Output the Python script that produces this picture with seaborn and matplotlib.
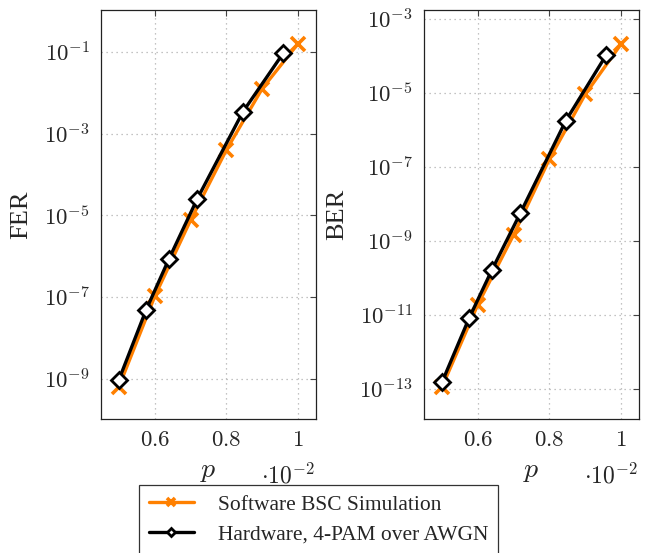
import numpy as np
import pandas as pd
import matplotlib
matplotlib.use('Agg')
import matplotlib.pyplot as plt
import seaborn as sns

# p values (in units of 1e-2)
p_sw = [0.5, 0.6, 0.7, 0.8, 0.9, 1.0]
p_hw = [0.5, 0.576, 0.64, 0.719, 0.846, 0.959]

# log10 of error rates
fer_sw_log = [-9.19, -6.98, -5.12, -3.40, -1.90, -0.80]
fer_hw_log = [-9.02, -7.31, -6.06, -4.59, -2.47, -1.03]
ber_sw_log = [-12.96, -10.73, -8.84, -6.79, -5.04, -3.68]
ber_hw_log = [-12.83, -11.09, -9.78, -8.25, -5.75, -3.97]

labels = ['Software BSC Simulation', 'Hardware, 4-PAM over AWGN']

sns.set_style('white')
plt.rcParams['font.family'] = ['Liberation Serif', 'DejaVu Serif']
plt.rcParams['mathtext.fontset'] = 'cm'

orange = '#ff8000'

fig = plt.figure(figsize=(6.48, 5.53), dpi=100)
W, H = 648, 553
ax1 = fig.add_axes([101 / W, (H - 419) / H, 215 / W, 409 / H])
ax2 = fig.add_axes([424 / W, (H - 419) / H, 215 / W, 409 / H])


def draw(ax, sw, hw, ylab, ylim, yticks):
    sns.lineplot(x=p_sw, y=10.0 ** np.array(sw), ax=ax, color=orange, lw=2.4,
                 marker='x', markersize=10, mew=2.6, mec=orange,
                 label=labels[0])
    sns.lineplot(x=p_hw, y=10.0 ** np.array(hw), ax=ax, color='black', lw=2.4,
                 marker='D', markersize=8, mew=2.0, mfc='white', mec='black',
                 label=labels[1])
    ax.set_yscale('log')
    ax.set_xlim(0.45, 1.05)
    ax.set_ylim(*ylim)
    ax.set_xticks([0.6, 0.8, 1.0])
    ax.set_xticklabels(['$0.6$', '$0.8$', '$1$'])
    ax.set_yticks([10.0 ** e for e in yticks])
    ax.set_yticklabels(['$10^{%d}$' % e for e in yticks])
    ax.minorticks_off()
    ax.tick_params(direction='in', length=4, width=0.8, top=True, right=True,
                   labelsize=16.5, pad=8, color='#444444')
    ax.grid(True, ls=(0, (1, 3)), color='#b0b0b0', lw=0.9)
    for s in ax.spines.values():
        s.set_color('#222222')
        s.set_linewidth(0.9)
    ax.set_ylabel(ylab, fontsize=19, labelpad=8)
    ax.set_xlabel('$p$', fontsize=20, labelpad=6)
    ax.text(0.87, -0.14, r'$\cdot 10^{-2}$', transform=ax.transAxes,
            fontsize=17, ha='center', va='center')
    ax.get_legend().remove()


draw(ax1, fer_sw_log, fer_hw_log, 'FER', (10 ** -9.98, 10 ** 0.02), [-1, -3, -5, -7, -9])
draw(ax2, ber_sw_log, ber_hw_log, 'BER', (10 ** -13.82, 10 ** -2.76), [-3, -5, -7, -9, -11, -13])

handles, labs = ax1.get_legend_handles_labels()
leg = fig.legend(handles, labs, loc='upper left',
                 bbox_to_anchor=(139 / W, (H - 485) / H), fontsize=15.5,
                 frameon=True, fancybox=False, edgecolor='black',
                 borderaxespad=0, handlelength=2.1, borderpad=0.45,
                 labelspacing=0.45, handletextpad=1.1, markerscale=0.55)
leg.get_frame().set_linewidth(0.9)

fig.savefig('out.png', dpi=100)
